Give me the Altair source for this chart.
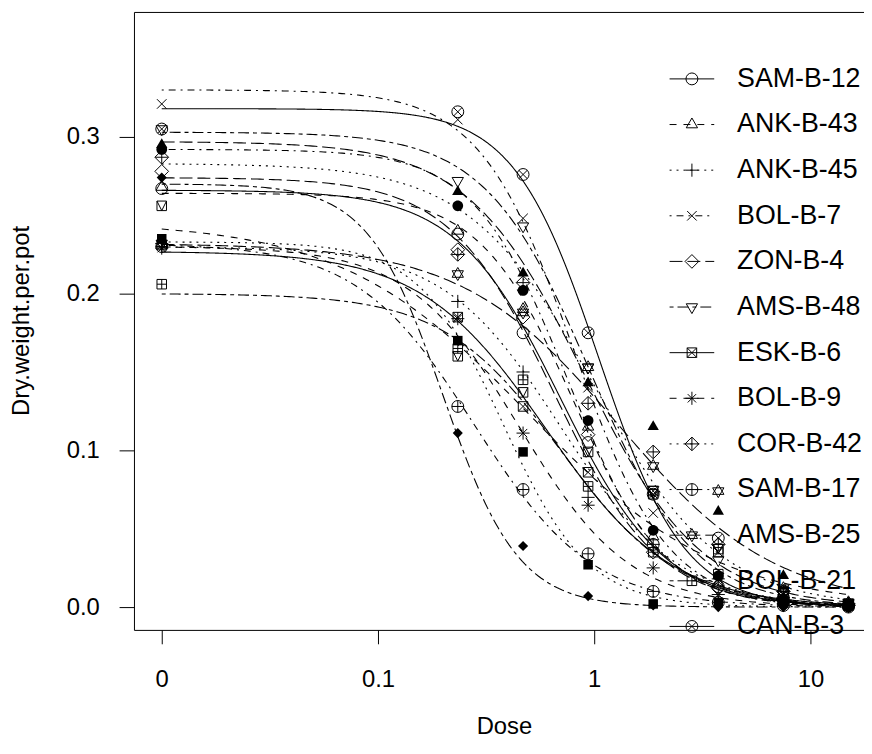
import altair as alt
import numpy as np
import pandas as pd

# ---------------- data ----------------
names = ["SAM-B-12", "ANK-B-43", "ANK-B-45", "BOL-B-7", "ZON-B-4", "AMS-B-48",
         "ESK-B-6", "BOL-B-9", "COR-B-42", "SAM-B-17", "AMS-B-25", "BOL-B-21",
         "CAN-B-3", "acc-14", "acc-15", "acc-16", "acc-17", "acc-18"]
legend_names = names[:13]          # the legend in the original is cut off after 13 entries

doses = [0, 0.234, 0.469, 0.9375, 1.875, 3.75, 7.5, 15]

# mean dry weight per pot at each dose
w_sam_b_12 = [0.267, 0.238, 0.175, 0.105, 0.040, 0.013, 0.004, 0.001]
w_ank_b_43 = [0.268, 0.240, 0.190, 0.115, 0.045, 0.015, 0.004, 0.001]
w_ank_b_45 = [0.232, 0.195, 0.150, 0.070, 0.040, 0.018, 0.006, 0.002]
w_bol_b_7 = [0.321, 0.311, 0.248, 0.140, 0.060, 0.018, 0.006, 0.002]
w_zon_b_4 = [0.278, 0.228, 0.185, 0.110, 0.035, 0.012, 0.004, 0.001]
w_ams_b_48 = [0.305, 0.272, 0.243, 0.153, 0.075, 0.030, 0.008, 0.002]
w_esk_b_6 = [0.231, 0.185, 0.128, 0.086, 0.074, 0.035, 0.008, 0.002]
w_bol_b_9 = [0.229, 0.184, 0.111, 0.065, 0.025, 0.008, 0.002, 0.001]
w_cor_b_42 = [0.287, 0.225, 0.207, 0.130, 0.099, 0.040, 0.010, 0.002]
w_sam_b_17 = [0.230, 0.128, 0.075, 0.034, 0.010, 0.003, 0.001, 0.000]
w_ams_b_25 = [0.232, 0.2125, 0.188, 0.153, 0.090, 0.074, 0.012, 0.003]
w_bol_b_21 = [0.206, 0.165, 0.145, 0.077, 0.035, 0.021, 0.005, 0.001]
w_can_b_3 = [0.305, 0.316, 0.276, 0.175, 0.072, 0.044, 0.006, 0.001]
w_acc_14 = [0.256, 0.160, 0.137, 0.099, 0.072, 0.037, 0.010, 0.002]
w_acc_15 = [0.235, 0.170, 0.099, 0.027, 0.002, 0.003, 0.004, 0.001]
w_acc_16 = [0.292, 0.256, 0.202, 0.119, 0.049, 0.020, 0.002, 0.000]
w_acc_17 = [0.295, 0.265, 0.213, 0.143, 0.115, 0.061, 0.020, 0.001]
w_acc_18 = [0.274, 0.111, 0.039, 0.007, 0.001, 0.000, 0.000, 0.000]

weights = [w_sam_b_12, w_ank_b_43, w_ank_b_45, w_bol_b_7, w_zon_b_4, w_ams_b_48,
           w_esk_b_6, w_bol_b_9, w_cor_b_42, w_sam_b_17, w_ams_b_25, w_bol_b_21,
           w_can_b_3, w_acc_14, w_acc_15, w_acc_16, w_acc_17, w_acc_18]

# fitted log-logistic (LL.4, lower limit 0) parameters per accession
slope_b = [1.8, 2.0, 1.6, 2.0, 1.8, 1.8, 1.5, 1.7, 1.5, 1.6, 1.2, 1.6, 2.2, 1.0, 2.2, 2.0, 1.6, 2.5]
upper_d = [0.266, 0.264, 0.230, 0.330, 0.274, 0.303, 0.227, 0.230, 0.283, 0.232, 0.232, 0.200,
           0.318, 0.246, 0.233, 0.292, 0.297, 0.270]
ed50_e = [0.70, 0.80, 0.70, 0.80, 0.65, 0.95, 0.60, 0.45, 1.00, 0.28, 1.30, 0.70,
          1.05, 0.50, 0.38, 0.75, 0.90, 0.20]

ZERO_POS = 0.01  # where dose 0 is drawn on the log axis

# ---------------- styling helpers ----------------
CIRC = "M-1,0A1,1,0,1,0,1,0A1,1,0,1,0,-1,0Z"
SQ = "M-0.8,-0.8H0.8V0.8H-0.8Z"
TRI_UP = "M0,-1.1L0.95,0.55L-0.95,0.55Z"
TRI_DN = "M0,1.1L0.95,-0.55L-0.95,-0.55Z"
DIAM = "M0,-1.15L1.15,0L0,1.15L-1.15,0Z"
PLUS = "M-1.1,0H1.1M0,-1.1V1.1"
CROSS = "M-0.8,-0.8L0.8,0.8M-0.8,0.8L0.8,-0.8"
DIAG = "M-0.7,-0.7L0.7,0.7M-0.7,0.7L0.7,-0.7"
sym_paths = [
    CIRC,                       # 1
    TRI_UP,                     # 2
    PLUS,                       # 3
    CROSS,                      # 4
    DIAM,                       # 5
    TRI_DN,                     # 6
    SQ + CROSS,                 # 7
    PLUS + DIAG,                # 8
    DIAM + PLUS,                # 9
    CIRC + "M-1,0H1M0,-1V1",    # 10
    TRI_UP + TRI_DN,            # 11
    SQ + "M-0.8,0H0.8M0,-0.8V0.8",  # 12
    CIRC + DIAG,                # 13
    SQ + "M-0.8,-0.8L0,0.8L0.8,-0.8",  # 14
    SQ,                         # 15
    "M-0.9,0A0.9,0.9,0,1,0,0.9,0A0.9,0.9,0,1,0,-0.9,0Z",  # 16
    TRI_UP,                     # 17
    "M0,-0.85L0.85,0L0,0.85L-0.85,0Z",  # 18
]

lty_px = {1: None, 2: [7, 7], 3: [2, 5], 4: [2, 5, 7, 5], 5: [13, 5], 6: [4, 4, 11, 4]}
series_lty = [(i % 6) + 1 for i in range(len(names))]
dash_range = [(lty_px[l] if lty_px[l] else [1, 0]) for l in series_lty]

UNIT = 6.0   # px per path unit for symbol size 144
HALF = 3.75  # half length of the legend line, in units


def legend_line(pattern):
    if pattern is None:
        return f"M{-HALF},0H{HALF}"
    segs = []
    pos = -HALF
    k = 0
    while pos < HALF:
        seg = pattern[k % len(pattern)] / UNIT
        end = min(pos + seg, HALF)
        if k % 2 == 0:
            segs.append(f"M{pos:.3f},0H{end:.3f}")
        pos = end
        k += 1
    return "".join(segs)


legend_paths = [legend_line(lty_px[series_lty[i]]) + sym_paths[i] for i in range(13)]

# ---------------- tables ----------------
pt_rows = []
for i, nm in enumerate(names):
    for dv, wv in zip(doses, weights[i]):
        pt_rows.append({"name": nm, "dose": ZERO_POS if dv == 0 else dv, "w": wv,
                        "filled": i >= 14})
points = pd.DataFrame(pt_rows)

grid = np.geomspace(ZERO_POS, max(doses), 260)
ln_rows = []
for i, nm in enumerate(names):
    yv = upper_d[i] / (1.0 + (grid / ed50_e[i]) ** slope_b[i])
    for xv, v in zip(grid, yv):
        ln_rows.append({"name": nm, "dose": float(xv), "w": float(v)})
curves = pd.DataFrame(ln_rows)

# ---------------- chart ----------------
FONT = "Liberation Sans"
xscale = alt.Scale(type="log", domain=[0.00744, 17.7], nice=False)
yscale = alt.Scale(domain=[-0.01456, 0.3797], nice=False, zero=False)

x_bottom = alt.Axis(values=[0.01, 0.1, 1, 10],
                    labelExpr="datum.value < 0.05 ? '0' : datum.value < 0.5 ? '0.1' : datum.value < 5 ? '1' : '10'",
                    title="Dose", grid=False, tickSize=14, labelPadding=43,
                    labelBaseline="alphabetic", labelFontSize=24, titleFontSize=24,
                    titleX=373, titleY=104, titleBaseline="alphabetic", titleAnchor="middle",
                    labelFlush=False)
x_top = alt.Axis(orient="top", labels=False, ticks=False, grid=False, title=None,
                 domain=True)
y_ax = alt.Axis(values=[0, 0.1, 0.2, 0.3], format=".1f", title="Dry.weight.per.pot",
                grid=False, tickSize=15, labelPadding=20, labelFontSize=24,
                titleFontSize=24, titleX=-106, titleY=311, titleAngle=270,
                titleBaseline="alphabetic", titleAnchor="middle", labelFlush=False)

lines = alt.Chart(curves).mark_line(color="black", strokeWidth=1.1, clip=True).encode(
    x=alt.X("dose:Q", scale=xscale, axis=x_bottom),
    y=alt.Y("w:Q", scale=yscale, axis=y_ax),
    detail="name:N",
    strokeDash=alt.StrokeDash("name:N", scale=alt.Scale(domain=names, range=dash_range),
                              legend=None),
)

open_pts = alt.Chart(points).transform_filter("!datum.filled").mark_point(
    filled=False, color="black", strokeWidth=1, size=144, opacity=1).encode(
    x=alt.X("dose:Q", scale=xscale, axis=None),
    y=alt.Y("w:Q", scale=yscale, axis=y_ax),
    shape=alt.Shape("name:N", scale=alt.Scale(domain=names, range=sym_paths), legend=None),
)

filled_pts = alt.Chart(points).transform_filter("datum.filled").mark_point(
    filled=True, color="black", strokeWidth=1, size=144, opacity=1).encode(
    x=alt.X("dose:Q", scale=xscale, axis=None),
    y=alt.Y("w:Q", scale=yscale, axis=y_ax),
    shape=alt.Shape("name:N", scale=alt.Scale(domain=names, range=sym_paths), legend=None),
)

legend_layer = alt.Chart(points).transform_filter("false").mark_point(
    filled=False, color="black", strokeWidth=1, size=144).encode(
    x=alt.X("dose:Q", scale=xscale, axis=x_top),
    y=alt.Y("w:Q", scale=yscale, axis=y_ax),
    shape=alt.Shape("name:N",
                    scale=alt.Scale(domain=legend_names, range=legend_paths),
                    legend=alt.Legend(orient="none", legendX=549, legendY=54,
                                      title=None, labelFontSize=27, labelFont=FONT,
                                      labelColor="black", symbolSize=144,
                                      symbolStrokeColor="black", symbolStrokeWidth=1,
                                      symbolFillColor="transparent", symbolOpacity=1,
                                      labelOffset=32, rowPadding=18, padding=0,
                                      labelLimit=400)),
)

chart = alt.layer(lines, open_pts, filled_pts, legend_layer).resolve_scale(
    shape="independent"
).resolve_axis(x="independent").properties(
    width=736, height=623,
    padding={"left": 127, "top": 1, "right": 0, "bottom": 106},
    autosize=alt.AutoSizeParams(type="none"),
    background="white",
).configure_view(strokeWidth=0).configure_axis(
    domainColor="black", domainWidth=1, tickColor="black", tickWidth=1,
    labelColor="black", titleColor="black", labelFont=FONT, titleFont=FONT,
    titleFontWeight="normal",
)

chart.save("out.html", embed_options={"renderer": "svg", "actions": False})
